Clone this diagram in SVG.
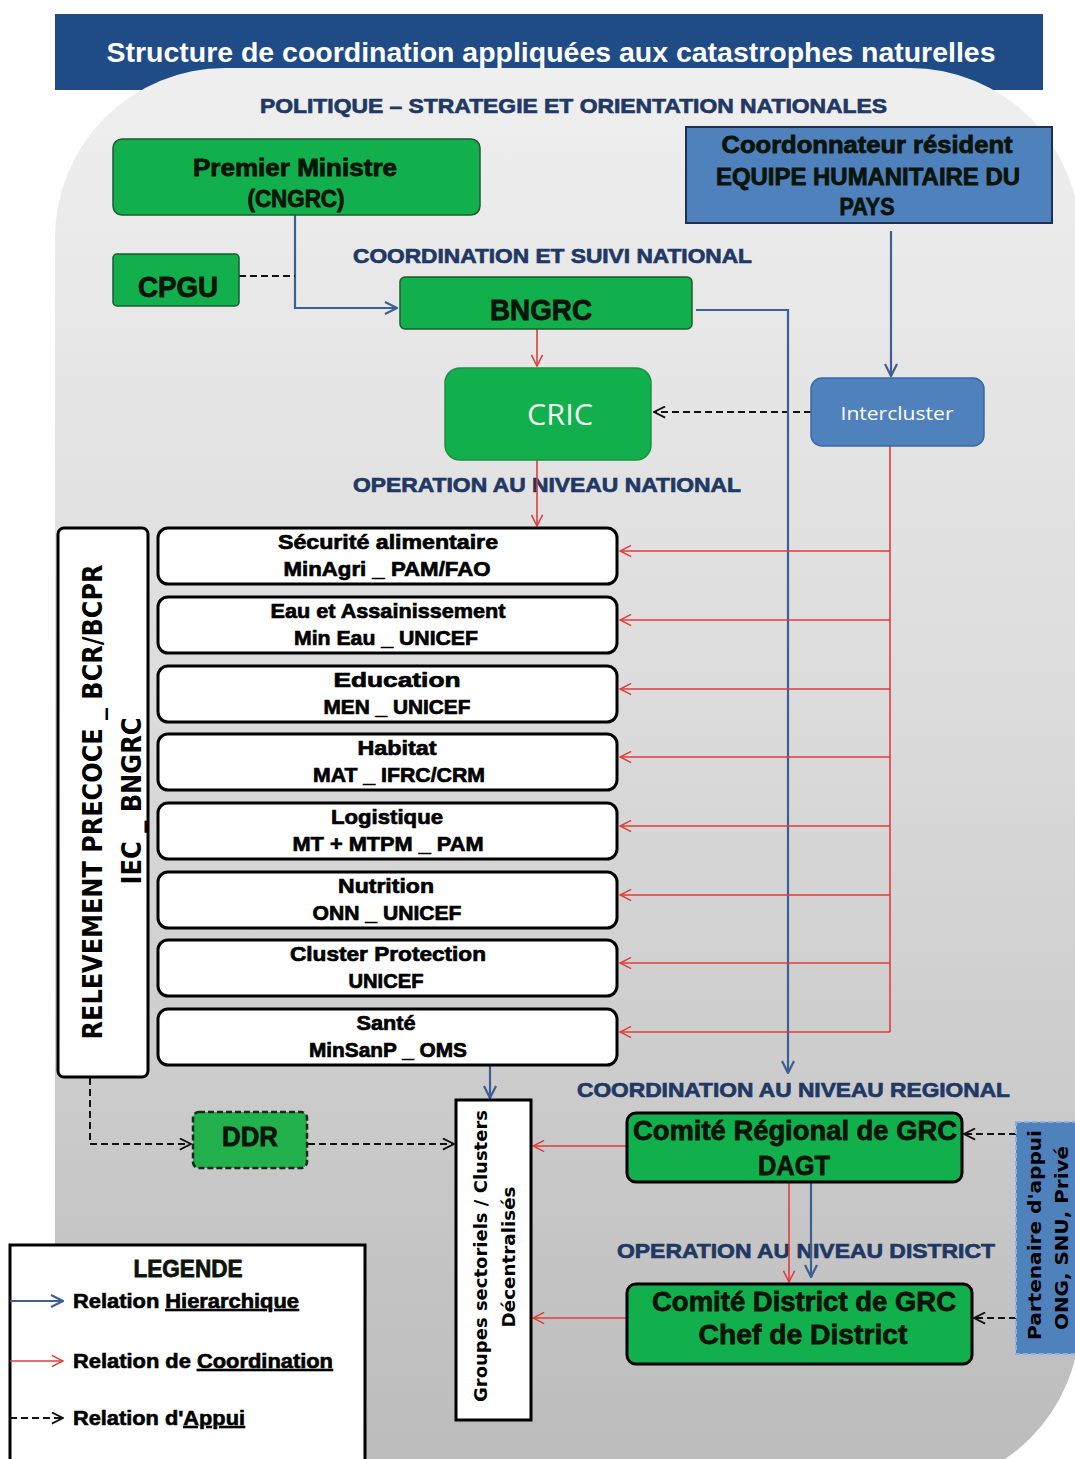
<svg xmlns="http://www.w3.org/2000/svg" width="1075" height="1459" viewBox="0 0 1075 1459">
<defs>
<linearGradient id="panelGrad" gradientUnits="userSpaceOnUse" x1="0" y1="68" x2="0" y2="1459">
<stop offset="0" stop-color="#efefef"/>
<stop offset="0.45" stop-color="#dcdcdc"/>
<stop offset="1" stop-color="#bcbcbc"/>
</linearGradient>
<marker id="aBlue" viewBox="0 0 14 14" refX="13" refY="7" markerWidth="14" markerHeight="14" markerUnits="userSpaceOnUse" orient="auto">
<path d="M1,1 L13,7 L1,13" fill="none" stroke="#3d5f92" stroke-width="2.2"/>
</marker>
<marker id="aRed" viewBox="0 0 14 14" refX="13" refY="7" markerWidth="13" markerHeight="13" markerUnits="userSpaceOnUse" orient="auto">
<path d="M1,1 L13,7 L1,13" fill="none" stroke="#e23b3b" stroke-width="1.6"/>
</marker>
<marker id="aBlack" viewBox="0 0 14 14" refX="13" refY="7" markerWidth="13" markerHeight="13" markerUnits="userSpaceOnUse" orient="auto">
<path d="M1,1 L13,7 L1,13" fill="none" stroke="#111" stroke-width="2"/>
</marker>
<style>
.sec{font-family:"Liberation Sans",Arial,sans-serif;font-weight:700;font-size:21px;fill:#1f3864;stroke:#1f3864;stroke-width:0.7px;}
.lbl{font-family:"Liberation Sans",Arial,sans-serif;font-weight:700;fill:#0b140b;stroke:#0b140b;stroke-width:0.8px;text-anchor:middle;}
.cl{font-family:"Liberation Sans",Arial,sans-serif;font-weight:700;font-size:21px;fill:#000;stroke:#000;stroke-width:0.7px;text-anchor:middle;}
.leg{font-family:"Liberation Sans",Arial,sans-serif;font-weight:700;font-size:20px;fill:#000;stroke:#000;stroke-width:0.6px;}
.green{fill:#12b04c;stroke:#1d5a2c;stroke-width:1.5;}
.greenBold{fill:#12b04c;stroke:#000;stroke-width:3;}
.clbox{fill:#fff;stroke:#000;stroke-width:3;}
.blue{fill:none;stroke:#3d5f92;stroke-width:2.2;}
.red{fill:none;stroke:#e23b3b;stroke-width:1.6;}
.dash{fill:none;stroke:#111;stroke-width:2;stroke-dasharray:7,4;}
.vert{font-family:"DejaVu Sans",Verdana,sans-serif;font-weight:700;fill:#000;text-anchor:middle;}
</style>
</defs>

<!-- title bar and background panel -->
<rect x="55" y="14" width="988" height="76" fill="#1f4b87"/>
<rect x="55" y="68" width="1025" height="1420" rx="170" ry="170" fill="url(#panelGrad)"/>
<text x="551" y="62" font-family="Liberation Sans,Arial,sans-serif" font-weight="700" font-size="27" fill="#ffffff" text-anchor="middle" textLength="889" lengthAdjust="spacingAndGlyphs">Structure de coordination appliquées aux catastrophes naturelles</text>

<!-- section labels -->
<g id="section-labels">
<text class="sec" x="260" y="113" textLength="627" lengthAdjust="spacingAndGlyphs">POLITIQUE – STRATEGIE ET ORIENTATION NATIONALES</text>
<text class="sec" x="353" y="263" textLength="399" lengthAdjust="spacingAndGlyphs">COORDINATION ET SUIVI NATIONAL</text>
<text class="sec" x="353" y="492" textLength="388" lengthAdjust="spacingAndGlyphs">OPERATION AU NIVEAU NATIONAL</text>
<text class="sec" x="577" y="1097" textLength="433" lengthAdjust="spacingAndGlyphs">COORDINATION AU NIVEAU REGIONAL</text>
<text class="sec" x="617" y="1258" textLength="378" lengthAdjust="spacingAndGlyphs">OPERATION AU NIVEAU DISTRICT</text>
</g>

<!-- connectors -->
<g id="connectors">
<path class="blue" d="M295,215 V308 H397" marker-end="url(#aBlue)"/>
<path class="dash" d="M239,276 H295"/>
<path class="red" d="M537,329 V366" marker-end="url(#aRed)"/>
<path class="red" d="M537,460 V526" marker-end="url(#aRed)"/>
<path class="blue" d="M891,231 V376" marker-end="url(#aBlue)"/>
<path class="dash" d="M811,412 H654" marker-end="url(#aBlack)"/>
<path class="blue" d="M696,310 H788 V1073" marker-end="url(#aBlue)"/>
<path class="red" d="M890,446 V1032"/>
<path class="red" d="M890,551 H620" marker-end="url(#aRed)"/>
<path class="red" d="M890,620 H620" marker-end="url(#aRed)"/>
<path class="red" d="M890,689 H620" marker-end="url(#aRed)"/>
<path class="red" d="M890,757 H620" marker-end="url(#aRed)"/>
<path class="red" d="M890,826 H620" marker-end="url(#aRed)"/>
<path class="red" d="M890,895 H620" marker-end="url(#aRed)"/>
<path class="red" d="M890,963 H620" marker-end="url(#aRed)"/>
<path class="red" d="M890,1032 H620" marker-end="url(#aRed)"/>
<path class="blue" d="M490,1066 V1098" marker-end="url(#aBlue)"/>
<path class="dash" d="M90,1078 V1144 H191" marker-end="url(#aBlack)"/>
<path class="dash" d="M308,1144 H454" marker-end="url(#aBlack)"/>
<path class="red" d="M627,1146 H533" marker-end="url(#aRed)"/>
<path class="red" d="M627,1318 H533" marker-end="url(#aRed)"/>
<path class="red" d="M789,1183 V1282" marker-end="url(#aRed)"/>
<path class="blue" d="M811,1183 V1277" marker-end="url(#aBlue)"/>
<path class="dash" d="M1016,1134 H964" marker-end="url(#aBlack)"/>
<path class="dash" d="M1016,1318 H974" marker-end="url(#aBlack)"/>
</g>

<!-- nodes -->
<g id="premier-ministre">
<rect class="green" x="113" y="139" width="367" height="76" rx="9"/>
<text class="lbl" x="295" y="176" font-size="23" textLength="204" lengthAdjust="spacingAndGlyphs">Premier Ministre</text>
<text class="lbl" x="296" y="207" font-size="23" textLength="97" lengthAdjust="spacingAndGlyphs">(CNGRC)</text>
</g>
<g id="cpgu">
<rect class="green" x="113" y="254" width="126" height="52" rx="4"/>
<text class="lbl" x="178" y="297" font-size="29" textLength="80" lengthAdjust="spacingAndGlyphs">CPGU</text>
</g>
<g id="bngrc">
<rect class="green" x="400" y="277" width="292" height="52" rx="5"/>
<text class="lbl" x="541" y="320" font-size="29" textLength="102" lengthAdjust="spacingAndGlyphs">BNGRC</text>
</g>
<g id="coordonnateur">
<rect x="686" y="127" width="366" height="96" fill="#4f81bd" stroke="#1f2f4f" stroke-width="2"/>
<text class="lbl" x="867" y="153" font-size="23" textLength="291" lengthAdjust="spacingAndGlyphs">Coordonnateur résident</text>
<text class="lbl" x="868" y="185" font-size="23" textLength="304" lengthAdjust="spacingAndGlyphs">EQUIPE HUMANITAIRE DU</text>
<text class="lbl" x="867" y="215" font-size="23" textLength="55" lengthAdjust="spacingAndGlyphs">PAYS</text>
</g>
<g id="cric">
<rect x="445" y="368" width="206" height="92" rx="15" fill="#12b04c" stroke="#1f8f45" stroke-width="1.5"/>
<text x="560" y="425" font-family="Open Sans,Noto Sans,sans-serif" font-size="30" fill="#f4f4f4" text-anchor="middle" textLength="66" lengthAdjust="spacingAndGlyphs">CRIC</text>
</g>
<g id="intercluster">
<rect x="811" y="378" width="173" height="68" rx="11" fill="#4f81bd" stroke="#3a6aa6" stroke-width="1.5"/>
<text x="897" y="420" font-family="Open Sans,Noto Sans,sans-serif" font-size="19" fill="#ffffff" text-anchor="middle" textLength="113" lengthAdjust="spacingAndGlyphs">Intercluster</text>
</g>

<g id="relevement">
<rect class="clbox" x="58" y="528" width="90" height="549" rx="6"/>
<text class="vert" transform="translate(102,802) rotate(-90)" font-size="27" textLength="475" lengthAdjust="spacingAndGlyphs">RELEVEMENT PRECOCE _ BCR/BCPR</text>
<text class="vert" transform="translate(141,801) rotate(-90)" font-size="27" textLength="167" lengthAdjust="spacingAndGlyphs">IEC _ BNGRC</text>
</g>

<g id="securite-alimentaire">
<rect class="clbox" x="158" y="528" width="459" height="56" rx="10"/>
<text class="cl" x="388" y="549" textLength="220" lengthAdjust="spacingAndGlyphs">Sécurité alimentaire</text>
<text class="cl" x="387" y="576" textLength="207" lengthAdjust="spacingAndGlyphs">MinAgri _ PAM/FAO</text>
</g>
<g id="eau-assainissement">
<rect class="clbox" x="158" y="597" width="459" height="56" rx="10"/>
<text class="cl" x="388" y="618" textLength="235" lengthAdjust="spacingAndGlyphs">Eau et Assainissement</text>
<text class="cl" x="386" y="645" textLength="184" lengthAdjust="spacingAndGlyphs">Min Eau _ UNICEF</text>
</g>
<g id="education">
<rect class="clbox" x="158" y="666" width="459" height="56" rx="10"/>
<text class="cl" x="397" y="687" textLength="127" lengthAdjust="spacingAndGlyphs">Education</text>
<text class="cl" x="397" y="714" textLength="147" lengthAdjust="spacingAndGlyphs">MEN _ UNICEF</text>
</g>
<g id="habitat">
<rect class="clbox" x="158" y="734" width="459" height="56" rx="10"/>
<text class="cl" x="397" y="755" textLength="79" lengthAdjust="spacingAndGlyphs">Habitat</text>
<text class="cl" x="399" y="782" textLength="172" lengthAdjust="spacingAndGlyphs">MAT _ IFRC/CRM</text>
</g>
<g id="logistique">
<rect class="clbox" x="158" y="803" width="459" height="56" rx="10"/>
<text class="cl" x="387" y="824" textLength="112" lengthAdjust="spacingAndGlyphs">Logistique</text>
<text class="cl" x="388" y="851" textLength="191" lengthAdjust="spacingAndGlyphs">MT + MTPM _ PAM</text>
</g>
<g id="nutrition">
<rect class="clbox" x="158" y="872" width="459" height="56" rx="10"/>
<text class="cl" x="386" y="893" textLength="96" lengthAdjust="spacingAndGlyphs">Nutrition</text>
<text class="cl" x="387" y="920" textLength="149" lengthAdjust="spacingAndGlyphs">ONN _ UNICEF</text>
</g>
<g id="cluster-protection">
<rect class="clbox" x="158" y="940" width="459" height="56" rx="10"/>
<text class="cl" x="388" y="961" textLength="196" lengthAdjust="spacingAndGlyphs">Cluster Protection</text>
<text class="cl" x="386" y="988" textLength="75" lengthAdjust="spacingAndGlyphs">UNICEF</text>
</g>
<g id="sante">
<rect class="clbox" x="158" y="1009" width="459" height="56" rx="10"/>
<text class="cl" x="386" y="1030" textLength="59" lengthAdjust="spacingAndGlyphs">Santé</text>
<text class="cl" x="388" y="1057" textLength="158" lengthAdjust="spacingAndGlyphs">MinSanP _ OMS</text>
</g>

<g id="ddr">
<rect x="193" y="1112" width="114" height="56" rx="6" fill="#22b14c" stroke="#1a2a1a" stroke-width="2.5" stroke-dasharray="6,3"/>
<text class="lbl" x="250" y="1146" font-size="27" textLength="56" lengthAdjust="spacingAndGlyphs">DDR</text>
</g>

<g id="groupes-sectoriels">
<rect class="clbox" x="456" y="1100" width="75" height="320"/>
<text class="vert" transform="translate(487,1256) rotate(-90)" font-size="17" textLength="292" lengthAdjust="spacingAndGlyphs">Groupes sectoriels / Clusters</text>
<text class="vert" transform="translate(515,1257) rotate(-90)" font-size="17" textLength="141" lengthAdjust="spacingAndGlyphs">Décentralisés</text>
</g>

<g id="comite-regional">
<rect class="greenBold" x="627" y="1113" width="335" height="69" rx="9"/>
<text class="lbl" x="795" y="1140" font-size="28" textLength="324" lengthAdjust="spacingAndGlyphs">Comité Régional de GRC</text>
<text class="lbl" x="794" y="1175" font-size="28" textLength="72" lengthAdjust="spacingAndGlyphs">DAGT</text>
</g>
<g id="comite-district">
<rect class="greenBold" x="627" y="1284" width="345" height="80" rx="9"/>
<text class="lbl" x="804" y="1311" font-size="28" textLength="304" lengthAdjust="spacingAndGlyphs">Comité District de GRC</text>
<text class="lbl" x="803" y="1344" font-size="28" textLength="209" lengthAdjust="spacingAndGlyphs">Chef de District</text>
</g>

<g id="partenaire">
<rect x="1016" y="1122" width="62" height="232" fill="#4f81bd" stroke="#8fb0dc" stroke-width="2" stroke-dasharray="5,3"/>
<text class="vert" transform="translate(1041,1235) rotate(-90)" font-size="17" fill="#0a1428" textLength="210" lengthAdjust="spacingAndGlyphs">Partenaire d'appui</text>
<text class="vert" transform="translate(1068,1238) rotate(-90)" font-size="17" fill="#0a1428" textLength="184" lengthAdjust="spacingAndGlyphs">ONG, SNU, Privé</text>
</g>

<g id="legende">
<rect x="10" y="1245" width="355" height="230" fill="#ffffff" stroke="#000" stroke-width="3"/>
<text class="lbl" x="188" y="1277" font-size="24" textLength="109" lengthAdjust="spacingAndGlyphs">LEGENDE</text>
<path class="blue" d="M10,1301 H63" marker-end="url(#aBlue)"/>
<text class="leg" x="73" y="1308" textLength="226" lengthAdjust="spacingAndGlyphs">Relation <tspan text-decoration="underline">Hierarchique</tspan></text>
<path class="red" d="M10,1361 H63" marker-end="url(#aRed)"/>
<text class="leg" x="73" y="1368" textLength="260" lengthAdjust="spacingAndGlyphs">Relation de <tspan text-decoration="underline">Coordination</tspan></text>
<path class="dash" d="M10,1418 H63" marker-end="url(#aBlack)"/>
<text class="leg" x="73" y="1425" textLength="172" lengthAdjust="spacingAndGlyphs">Relation d'<tspan text-decoration="underline">Appui</tspan></text>
</g>
</svg>
